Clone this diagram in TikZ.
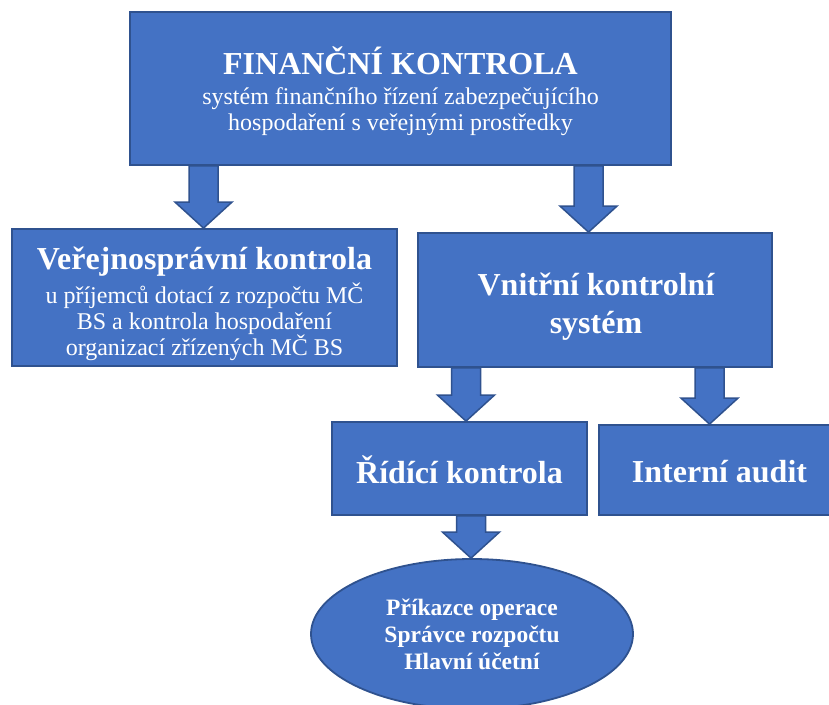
\documentclass[tikz,border=0pt]{standalone}
\usepackage{fontspec}
\setmainfont{Liberation Serif}
\usetikzlibrary{shapes.geometric,calc}
\definecolor{boxblue}{HTML}{4472C4}
\definecolor{boxedge}{HTML}{2F528F}
\tikzset{
  blk/.style={draw=boxedge, fill=boxblue, line width=1.8pt, text=white, align=center, inner sep=2pt},
  lbl/.style={text=white, align=center, inner sep=0pt},
  barrowstyle/.style={draw=boxedge, fill=boxblue, line width=1.5pt, line join=miter},
  big/.style={font=\fontsize{32}{38}\selectfont\bfseries},
  small/.style={font=\fontsize{24}{26}\selectfont},
}
% #1 = x (pt) of arrow axis, #2 = source node, #3 = target node
\newcommand\blockarrow[3]{%
  \path[barrowstyle] let \p1=(#2.south), \p2=(#3.north) in
    ({#1pt-14.5pt},\y1) -- ({#1pt+14.5pt},\y1) -- ({#1pt+14.5pt},{\y2+26pt}) --
    ({#1pt+28.5pt},{\y2+26pt}) -- ({#1pt},\y2) -- ({#1pt-28.5pt},{\y2+26pt}) --
    ({#1pt-14.5pt},{\y2+26pt}) -- cycle;}
\begin{document}
\begin{tikzpicture}[x=1pt,y=-1pt]
\useasboundingbox (0,0) rectangle (829,704);
\node[blk, minimum width=541pt, minimum height=153pt] (fin) at (400.5,88.5) {};
\node[lbl, small] (fint) at (400.5,91)
  {{\fontsize{32}{30}\selectfont\bfseries FINANČNÍ KONTROLA}\\[4pt]
   systém finančního řízení zabezpečujícího\\
   hospodaření s veřejnými prostředky};
\node[blk, minimum width=385pt, minimum height=137pt] (ver) at (204.5,297.5) {};
\node[lbl, small] (vert) at (204.5,304)
  {{\fontsize{32}{30}\selectfont\bfseries Veřejnosprávní kontrola}\\[6pt]
   u příjemců dotací z rozpočtu MČ\\
   BS a kontrola hospodaření\\
   organizací zřízených MČ BS};
\node[blk, minimum width=354pt, minimum height=134pt] (vks) at (595,300) {};
\node[lbl, big] (vkst) at (596,307) {Vnitřní kontrolní\\systém};
\node[blk, minimum width=255pt, minimum height=93pt] (rid) at (459.5,468.5) {};
\node[lbl, big] (ridt) at (459.5,470) {Řídící kontrola};
\node[blk, minimum width=232pt, minimum height=90pt] (ia) at (715,470) {};
\node[lbl, big] (iat) at (719.5,472) {Interní audit};
\node[blk, ellipse, inner sep=0pt, minimum width=322pt, minimum height=150pt,
      font=\fontsize{23.5}{27}\selectfont\bfseries] (ell) at (472,634)
  {Příkazce operace\\Správce rozpočtu\\Hlavní účetní};
\blockarrow{203.5}{fin}{ver}
\blockarrow{588.5}{fin}{vks}
\blockarrow{466}{vks}{rid}
\blockarrow{709.5}{vks}{ia}
\blockarrow{471}{rid}{ell}
\end{tikzpicture}
\end{document}
